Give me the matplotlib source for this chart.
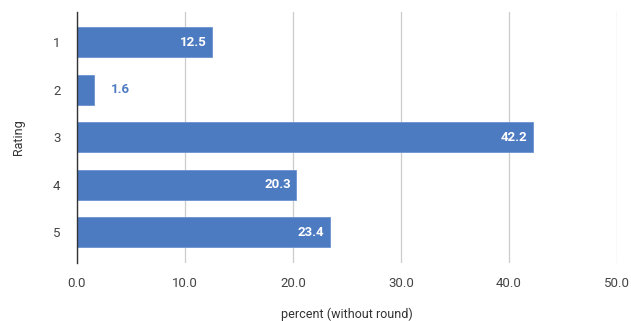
import matplotlib
matplotlib.use('Agg')
import matplotlib.pyplot as plt

plt.rcParams['font.family'] = ['Roboto', 'DejaVu Sans']

# Data
ratings = ['1', '2', '3', '4', '5']
percent = [12.5, 1.6, 42.2, 20.3, 23.4]
xticks = [0, 10, 20, 30, 40, 50]

bar_color = '#4d7bc2'

fig = plt.figure(figsize=(6.31, 3.21), dpi=100)
ax = fig.add_axes([0.122, 0.181, 0.856, 0.782])

pos = list(range(1, len(ratings) + 1))
bars = ax.barh(pos, percent, height=0.63, color=bar_color, edgecolor='#6b93d0',
               linewidth=0.6, zorder=3)

for b, v in zip(bars, percent):
    y = b.get_y() + b.get_height() / 2
    if v > 5:
        ax.text(v - 0.5, y, f'{v:.1f}', ha='right', va='center', color='white',
                fontsize=9.5, fontweight='bold', zorder=4)
    else:
        ax.text(v + 1.5, y, f'{v:.1f}', ha='left', va='center', color=bar_color,
                fontsize=9.5, fontweight='bold', zorder=4)

ax.set_xlim(0, 50)
ax.set_ylim(5.64, 0.36)
ax.set_yticks(pos)
ax.set_yticklabels(ratings)
ax.set_xticks(xticks)
ax.set_xticklabels([f'{t:.1f}' for t in xticks])

ax.grid(True, axis='x', color='#cccccc', linewidth=0.9, zorder=0)
for s in ['top', 'right', 'bottom']:
    ax.spines[s].set_visible(False)
ax.spines['left'].set_color('#333333')
ax.spines['left'].set_linewidth(1.0)
ax.spines['left'].set_zorder(5)
ax.tick_params(axis='both', length=0, labelsize=9.5, colors='#444444')
ax.tick_params(axis='x', pad=10)
ax.tick_params(axis='y', pad=12)

ax.set_xlabel('percent (without round)', fontsize=9, color='#333333', labelpad=13)
ax.set_ylabel('Rating', fontsize=9, color='#333333', labelpad=20)

fig.savefig('out.png', dpi=100, facecolor='white')
